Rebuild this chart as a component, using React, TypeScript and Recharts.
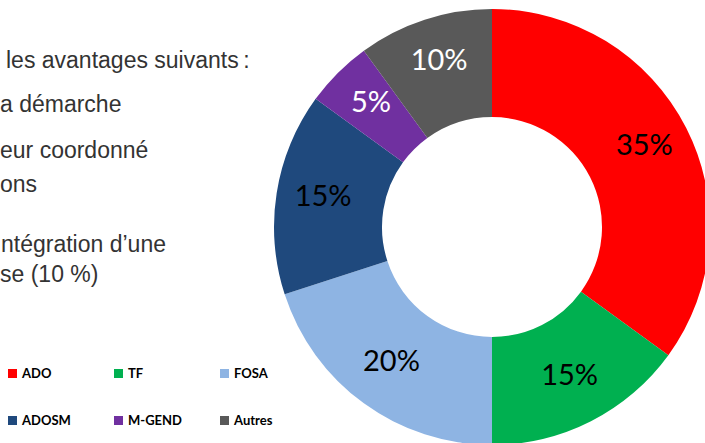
import { PieChart, Pie, Cell, Legend } from 'recharts'

const categories = ['ADO', 'TF', 'FOSA', 'ADOSM', 'M-GEND', 'Autres']
const shares = [35, 15, 20, 15, 5, 10]
const sliceColors = ['#ff0000', '#00b050', '#8eb4e3', '#1f497d', '#7030a0', '#595959']
const labelColors = ['#000', '#000', '#000', '#000', '#fff', '#fff']

const bodyLines = [
  { text: 'les avantages suivants\u2009:', x: 6, y: 68 },
  { text: 'a démarche', x: 0, y: 112 },
  { text: 'eur coordonné', x: 0, y: 158 },
  { text: 'ons', x: 0, y: 192 },
  { text: 'ntégration d\u2019une', x: 1, y: 252 },
  { text: 'se (10 %)', x: 0, y: 282 },
]

const data = categories.map((name, i) => ({ name, value: shares[i] }))

const RADIAN = Math.PI / 180

function renderLabel(props: any) {
  const { cx, cy, midAngle, index } = props
  const r = 171
  const x = cx + r * Math.cos(-midAngle * RADIAN)
  const y = cy + r * Math.sin(-midAngle * RADIAN) - 6
  return (
    <text
      x={x}
      y={y}
      textAnchor="middle"
      dominantBaseline="central"
      fill={labelColors[index]}
      fontSize={29}
      fontFamily="Lato, 'Open Sans', sans-serif"
    >
      {shares[index]}%
    </text>
  )
}

function LegendGrid() {
  return (
    <div style={{ position: 'relative', width: 300, height: 80 }}>
      {categories.map((name, i) => {
        const col = i % 3
        const row = Math.floor(i / 3)
        return (
          <div
            key={name}
            style={{
              position: 'absolute',
              left: 8 + col * 106,
              top: row * 47,
              display: 'flex',
              alignItems: 'center',
              fontFamily: "Lato, 'Open Sans', sans-serif",
              fontWeight: 700,
              fontSize: 13,
              color: '#000',
              whiteSpace: 'nowrap',
            }}
          >
            <span style={{ width: 9, height: 9, background: sliceColors[i], marginRight: 5, display: 'inline-block' }} />
            {name}
          </div>
        )
      })}
    </div>
  )
}

export default function App() {
  return (
    <div style={{ position: 'absolute', left: 0, top: 0, width: 705, height: 443, overflow: 'hidden', background: '#fff' }}>
      {bodyLines.map((l) => (
        <div
          key={l.text}
          style={{
            position: 'absolute',
            left: l.x,
            top: l.y - 21,
            fontFamily: "'Liberation Sans', Arial, sans-serif",
            fontSize: 23,
            lineHeight: '26px',
            color: '#333333',
            whiteSpace: 'nowrap',
          }}
        >
          {l.text}
        </div>
      ))}
      <div style={{ position: 'absolute', left: 0, top: 0 }}>
        <PieChart width={705} height={443} margin={{ top: 0, right: 0, bottom: 0, left: 0 }}>
          <Pie
            data={data}
            dataKey="value"
            nameKey="name"
            cx={492}
            cy={227}
            innerRadius={110}
            outerRadius={218}
            startAngle={90}
            endAngle={-270}
            stroke="none"
            label={renderLabel}
            labelLine={false}
            isAnimationActive={false}
          >
            {data.map((d, i) => (
              <Cell key={d.name} fill={sliceColors[i]} />
            ))}
          </Pie>
          <Legend
            content={() => <LegendGrid />}
            wrapperStyle={{ position: 'absolute', left: 0, top: 365, width: 300 }}
          />
        </PieChart>
      </div>
    </div>
  )
}
